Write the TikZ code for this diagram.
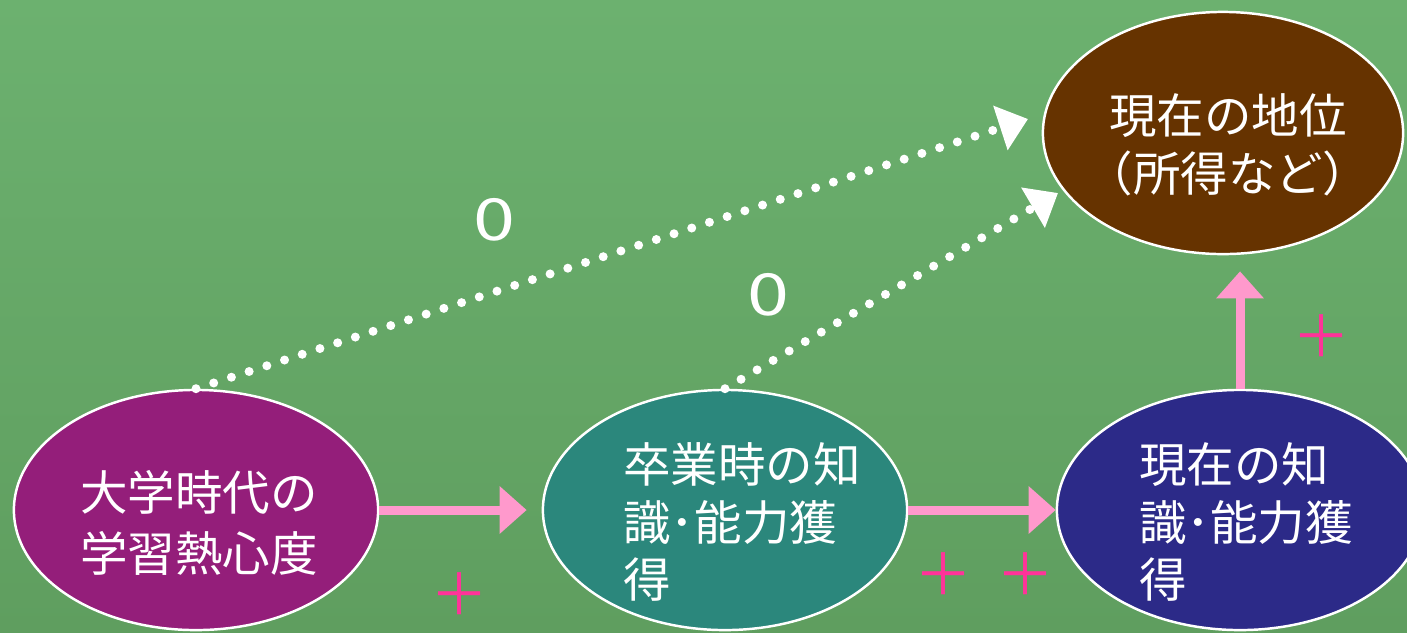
\documentclass[tikz,border=0pt]{standalone}
\usepackage{fontspec}
\setmainfont{Noto Sans CJK JP}
\usepackage{xcolor}
\usetikzlibrary{shapes.geometric, arrows.meta}

\definecolor{bgTop}{RGB}{108,177,111}
\definecolor{bgBottom}{RGB}{95,158,95}
\definecolor{studyPurple}{RGB}{148,30,122}
\definecolor{gradTeal}{RGB}{43,135,124}
\definecolor{nowNavy}{RGB}{44,42,136}
\definecolor{statusBrown}{RGB}{102,51,0}
\definecolor{arrowPink}{RGB}{255,153,204}
\definecolor{plusPink}{RGB}{255,51,153}

\begin{document}
\begin{tikzpicture}[x=0.01cm, y=0.01cm,
    bubble/.style={ellipse, draw=white, line width=0.7pt, inner sep=0pt,
                   minimum width=3.64cm, minimum height=2.40cm},
    bubbletext/.style={text=white, font=\fontsize{13.5}{16.4}\selectfont, inner sep=0pt},
    effect/.style={line width=0.09cm, color=arrowPink, -{Triangle[length=0.27cm, width=0.46cm]}},
    noeffect/.style={line width=0.09cm, white, line cap=round, dash pattern=on 0pt off 0.186cm,
                     -{Triangle[length=0.29cm, width=0.45cm]}},
    plus/.style={text=plusPink, font=\fontsize{16.5}{18}\selectfont, inner sep=0pt},
    zero/.style={text=white, font=\fontsize{16.5}{18}\selectfont, inner sep=0pt, xscale=1.3}]

    % draw background
    \shade[top color=bgTop, bottom color=bgBottom] (0, 0) rectangle (1407, 632);
    \useasboundingbox (0, 0) rectangle (1407, 632);
    \clip (0, 0) rectangle (1407, 632);

    % draw ellipses
    \node[bubble, fill=studyPurple] (study) at (196, 122) {};
    \node[bubble, fill=gradTeal] (knowGrad) at (725, 122) {};
    \node[bubble, fill=nowNavy, minimum width=3.66cm] (knowNow) at (1240, 122) {};
    \node[bubble, fill=statusBrown, minimum width=3.60cm, minimum height=2.42cm] (status) at (1223, 499) {};

    % draw texts in ellipses
    \node[bubbletext, align=center] (studyText) at ([xshift=0.03cm, yshift=-0.13cm]study.center)
        {大学時代の\\[0.03cm]学習熱心度};
    \node[bubbletext, align=left] (knowGradText) at ([xshift=0.17cm, yshift=-0.12cm]knowGrad.center)
        {卒業時の知\\識･能力獲\\得};
    \node[bubbletext, align=left] (knowNowText) at ([xshift=0.06cm, yshift=-0.12cm]knowNow.center)
        {現在の知\\識･能力獲\\得};
    \node[bubbletext, align=center] (statusText) at ([xshift=0.05cm, yshift=-0.12cm]status.center)
        {現在の地位\\（所得など）};

    % draw arrow ends
    \coordinate (tipA) at (1028, 513);
    \coordinate (tipB) at (1058, 439);

    % draw arrows
    \draw[effect, shorten >=0.15cm] (study.east) -- (knowGrad.west);
    \draw[effect] (knowGrad.east) -- (knowNow.west);
    \draw[effect, shorten >=0.16cm] (knowNow.north) -- (knowNow.north |- status.south);
    \draw[noeffect] (study.north) -- (tipA);
    \draw[noeffect] (knowGrad.north) -- (tipB);

    % draw symbols
    \node[zero] (zeroA) at (494, 412) {0};
    \node[zero] (zeroB) at (768, 337) {0};
    \node[plus] (plusA) at (460, 38) {＋};
    \node[plus] (plusB) at (943.5, 58) {＋};
    \node[plus] (plusC) at (1025.5, 58) {＋};
    \node[plus] (plusD) at (1321.5, 295.5) {＋};

\end{tikzpicture}
\end{document}
